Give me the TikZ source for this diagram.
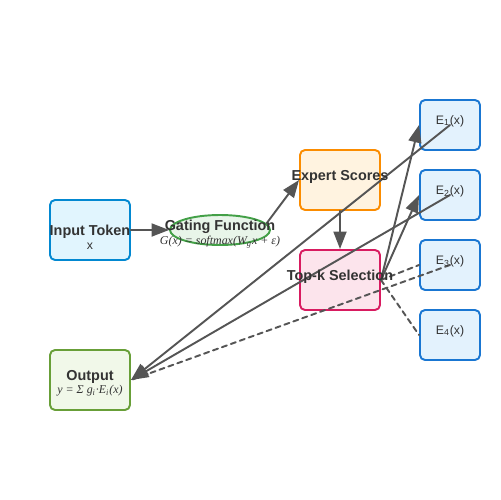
\documentclass[tikz,border=0pt]{standalone}
\usepackage{fontspec}
\setmainfont{Liberation Sans}
\newfontfamily\formfont{Liberation Serif}
\usetikzlibrary{arrows.meta,shapes.geometric}
\definecolor{txt}{HTML}{333333}
\definecolor{linkgray}{HTML}{555555}
\definecolor{infill}{HTML}{E1F5FE}
\definecolor{inline}{HTML}{0288D1}
\definecolor{gatefill}{HTML}{E8F5E9}
\definecolor{gateline}{HTML}{43A047}
\definecolor{scorefill}{HTML}{FFF3E0}
\definecolor{scoreline}{HTML}{FB8C00}
\definecolor{topfill}{HTML}{FCE4EC}
\definecolor{topline}{HTML}{D81B60}
\definecolor{expfill}{HTML}{E3F2FD}
\definecolor{expline}{HTML}{1976D2}
\definecolor{outfill}{HTML}{F1F8E9}
\definecolor{outline}{HTML}{689F38}
\begin{document}
\begin{tikzpicture}[x=0.02cm, y=-0.02cm, line join=round, line cap=round, >={Triangle[length=3.5mm,width=2.6mm]},
	box/.style={draw, line width=1.1pt, rounded corners=0.1cm, minimum width=1.6cm, minimum height=1.2cm, inner sep=0pt},
	expert/.style={box, draw=expline, fill=expfill, minimum width=1.2cm, minimum height=1cm},
	title/.style={font=\fontsize{8.2}{9}\selectfont\bfseries, text=txt, inner sep=0pt},
	plain/.style={font=\fontsize{7}{8}\selectfont, text=txt, inner sep=0pt},
	formula/.style={font=\fontsize{6.8}{8}\selectfont\formfont\itshape, text=txt, inner sep=0pt},
	link/.style={draw=linkgray, line width=1.1pt},
	maybe/.style={link, dash pattern=on 3pt off 2.4pt}]
			\useasboundingbox (0,0) rectangle (500,500);
			% boxes
			\node[box, draw=inline, fill=infill] (input) at (90,230) {};
			\node[ellipse, draw=gateline, fill=gatefill, line width=1.1pt, minimum width=2cm, minimum height=0.6cm, inner sep=0pt] (gate) at (220,230) {};
			\node[box, draw=scoreline, fill=scorefill] (scores) at (340,180) {};
			\node[box, draw=topline, fill=topfill] (topk) at (340,280) {};
			\node[box, draw=outline, fill=outfill] (output) at (90,380) {};
			\foreach \i/\y in {1/125,2/195,3/265,4/335}
				\node[expert] (e\i) at (450,\y) {};
			% connectors
			\draw[link,->] (input.east) -- (gate.west);
			\draw[link,->] (gate.8) -- (scores.west);
			\draw[link,->] (scores.south) -- (topk.north);
			\draw[link,->] (topk.east) -- (e1.west);
			\draw[link,->] (topk.east) -- (e2.west);
			\draw[maybe] (topk.east) -- (e3.west);
			\draw[maybe] (topk.east) -- (e4.west);
			\draw[link,->] (e1.center) -- (output.east);
			\draw[link,->] (e2.center) -- (output.east);
			\draw[maybe] (e3.center) -- (output.east);
			% texts
			\node[title] (intitle) at (90,232) {Input Token};
			\node[plain] (inx) at (90,246) {x};
			\node[title] (gatetitle) at (220,227) {Gating Function};
			\node[formula] (gateform) at (220,242) {G(x) = softmax(W\textsubscript{g}x + ε)};
			\node[title] (scoretitle) at (340,177) {Expert Scores};
			\node[title] (toptitle) at (340,277) {Top-k Selection};
			\node[title] (outtitle) at (90,377) {Output};
			\node[formula] (outform) at (90,391) {y = Σ g\textsubscript{i}·E\textsubscript{i}(x)};
			\foreach \i/\y in {1/125,2/195,3/265,4/335}
				\node[plain] (etext\i) at (450,\y-4) {E\textsubscript{\i}(x)};
		\end{tikzpicture}
\end{document}
